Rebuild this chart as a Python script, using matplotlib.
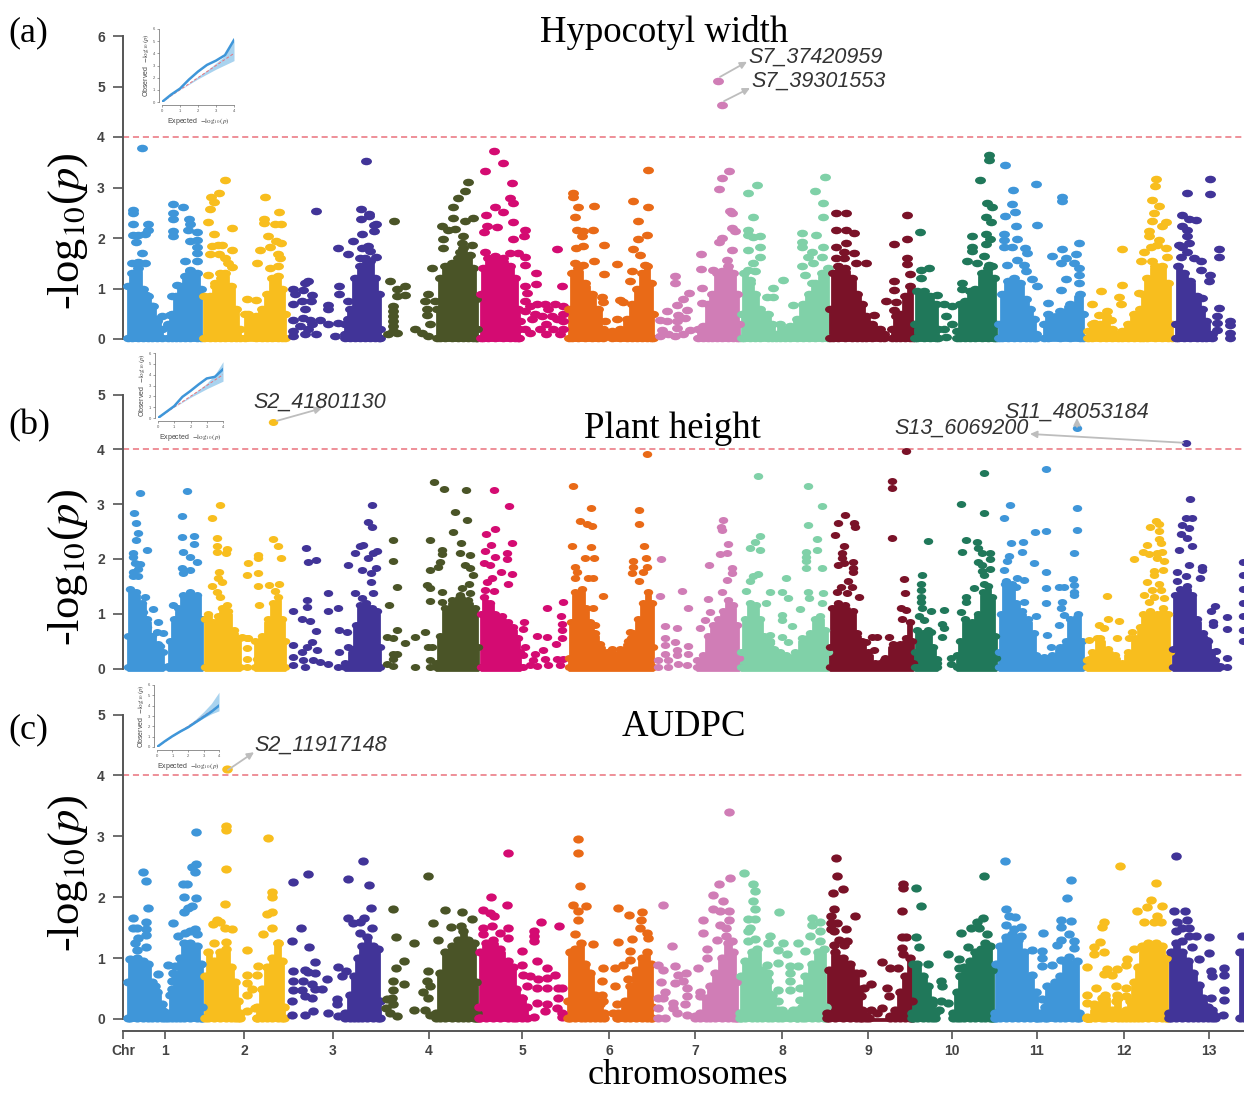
#!/usr/bin/env python3
"""Three stacked Manhattan plots (hypocotyl width, plant height, AUDPC) with QQ insets."""

import matplotlib
matplotlib.use("Agg")
import matplotlib.pyplot as plt
import numpy as np
from matplotlib.markers import MarkerStyle
from matplotlib.path import Path
from matplotlib.transforms import Affine2D

W, H = 1244, 1094

chr_labels = ["1", "2", "3", "4", "5", "6", "7", "8", "9", "10", "11", "12", "13"]
chr_ticks = [165, 244, 333, 429, 522, 609, 695, 782, 868, 952, 1037, 1124, 1209]
chr_colors = ["#3F96D9", "#F8BE1E", "#413498", "#4A5427", "#D40B72", "#E96A17", "#D07DB6",
              "#80D1A8", "#7A1228", "#20785A", "#3F96D9", "#F8BE1E", "#413498"]

# position along the genome axis, -log10(p)
# *_env: top of the solid part of a chromosome, *_pts: separately visible SNPs
a01_env = [(128,1.05),(132,1.3),(138,1.4),(143,1.0),(148,.85),(152,.65),(157,.4),(162,.2),(165,0),(167,0),(168,.3),(172,.5),(176,.85),(180,1.05),(185,1.25),(190,1.35),(197,1.3),(201,1.0)]
a01_pts = [(142,3.79),(133,2.55),(133,2.5),(133,2.28),(148,2.28),(133,2.06),(138,2.06),(145,2.07),(148,2.16),(136,1.92),(142,1.71),(132,1.5),(138,1.53),(145,1.5),(153,.65),(157,.35),(162,.46),(157,.18),(146,.88),(173,2.67),(183,2.62),(173,2.5),(173,2.37),(189,2.37),(190,2.28),(173,2.13),(173,2.03),(188,2.16),(197,2.11),(190,1.95),(197,1.96),(197,1.83),(197,1.7),(197,1.54),(185,1.54),(190,1.37),(172,.86),(177,1.07),(170,.48),(168,.25)]
a02_env = [(204,.85),(210,.85),(215,1.05),(220,1.3),(225,1.3),(231,1.05),(236,.6),(240,.2),(241,0),(243,0),(245,.5),(256,.45),(262,.6),(267,.9),(272,1.2),(278,1.25),(282,1.0),(285,.5)]
a02_pts = [(225,3.14),(219,2.9),(211,2.82),(214,2.72),(210,2.58),(208,2.32),(232,2.2),(214,2.07),(212,1.85),(218,1.86),(222,1.86),(232,1.76),(210,1.68),(219,1.68),(225,1.6),(228,1.5),(232,1.42),(208,1.27),(215,1.1),(221,1.2),(265,2.82),(264,2.37),(264,2.29),(279,2.51),(275,2.27),(281,2.28),(268,2.04),(276,1.95),(281,1.9),(260,1.76),(270,1.82),(278,1.68),(280,1.6),(257,1.5),(270,1.4),(278,1.45),(247,.8),(256,.78),(248,.5)]
a03_env = [(345,.3),(350,.6),(355,1.2),(360,1.45),(365,1.6),(370,1.55),(375,1.2),(379,.9),(380,.2)]
a03_pts = [(293,1.0),(295,.9),(305,1.1),(308,1.15),(303,.98),(312,.87),(302,.75),(293,.7),(311,.75),(305,.6),(328,.68),(328,.6),(293,.38),(303,.42),(310,.38),(320,.38),(328,.3),(293,.15),(300,.25),(308,.2),(316,.1),(293,.05),(305,.1),(312,.3),(316,2.53),(339,1.05),(339,.9),(338,.32),(345,.1),(355,.2),(348,.75),(335,.05),(348,.4),(366,3.53),(361,2.57),(369,2.47),(361,2.37),(369,2.43),(376,2.28),(374,2.25),(374,2.13),(362,2.07),(353,1.95),(338,1.8),(362,1.8),(368,1.85),(370,1.75),(348,1.68),(360,1.6),(376,1.62)]
a04_env = [(437,.6),(440,1.2),(445,1.45),(452,1.5),(458,1.6),(463,1.8),(468,1.65),(473,1.4),(476,.8),(477,.2)]
a04_pts = [(394,2.33),(390,1.15),(397,1.0),(405,1.05),(405,.88),(397,.85),(393,.65),(393,.55),(393,.45),(393,.35),(393,.25),(393,.15),(388,.1),(397,.12),(415,.2),(428,.9),(432,1.4),(425,.75),(435,.75),(427,.48),(428,.05),(422,.12),(430,.3),(427,.6),(468,3.1),(465,2.94),(458,2.8),(453,2.62),(453,2.39),(473,2.39),(465,2.33),(442,2.24),(448,2.16),(455,2.17),(463,2.04),(443,1.98),(443,1.8),(462,1.9),(472,1.87),(460,1.73),(470,1.67)]
a05_env = [(481,.9),(483,1.4),(488,1.6),(495,1.65),(503,1.6),(510,1.45),(515,1.2),(518,.6),(519,.2)]
a05_pts = [(494,3.72),(503,3.48),(485,3.33),(512,3.08),(510,2.79),(513,2.7),(495,2.61),(503,2.51),(486,2.46),(513,2.31),(487,2.23),(484,2.11),(497,2.21),(525,2.16),(524,2.04),(513,1.98),(557,1.78),(485,1.73),(510,1.7),(518,1.7),(525,1.63),(525,1.46),(536,1.3),(536,1.09),(562,1.04),(525,1.04),(527,.91),(525,.75),(530,.65),(537,.7),(545,.7),(548,.6),(555,.7),(563,.65),(563,.5),(557,.4),(563,.35),(525,.55),(535,.5),(542,.45),(532,.4),(546,.3),(553,.2),(560,.1),(563,.2),(525,.2),(530,.12),(540,.2),(546,.1),(520,.35),(552,.45)]
a06_env = [(569,.6),(572,1.3),(578,1.4),(585,1.1),(592,.9),(598,.6),(603,.2),(604,0),(610,0),(612,.15),(620,.2),(627,.4),(632,.7),(637,1.0),(642,1.3),(647,1.45),(651,1.1),(653,.5)]
a06_pts = [(648,3.35),(573,2.89),(573,2.81),(633,2.74),(578,2.61),(594,2.64),(648,2.61),(575,2.42),(638,2.33),(577,2.15),(583,2.13),(593,2.16),(582,2.03),(647,2.05),(638,1.98),(576,1.8),(583,1.85),(604,1.87),(633,1.78),(640,1.67),(594,1.55),(575,1.5),(583,1.47),(617,1.49),(645,1.47),(632,1.34),(604,1.29),(630,1.14),(602,.84),(620,.78),(617,.4),(603,.74),(605,.35),(623,.74),(607,.12)]
a07_env = [(698,.2),(703,.25),(708,.7),(712,.9),(717,1.3),(722,1.35),(728,1.45),(733,1.3),(737,.9),(739,.3)]
a07_pts = [(675,1.24),(675,1.11),(689,.91),(683,.79),(677,.68),(667,.55),(687,.58),(678,.48),(685,.41),(660,.38),(667,.35),(677,.35),(677,.22),(662,.18),(668,.09),(675,.05),(690,.18),(660,.05),(683,.09),(702,.71),(702,1.01),(701,1.38),(729,3.32),(722,3.18),(719,2.98),(730,2.54),(732,2.5),(719,1.93),(722,2.0),(732,2.2),(735,2.13),(732,1.77),(727,1.57),(701,1.68),(713,1.37)]
a08_env = [(742,.5),(744,1.3),(750,1.1),(755,.9),(760,.6),(768,.5),(772,.3),(776,.1),(780,.3),(785,.2),(790,.25),(797,.4),(803,.7),(809,.9),(815,1.1),(822,1.3),(828,1.4)]
a08_pts = [(748,2.9),(757,3.05),(753,2.41),(748,2.16),(748,2.06),(760,2.04),(753,2.02),(748,1.77),(760,1.83),(760,1.63),(753,1.5),(748,1.37),(755,1.34),(750,1.17),(773,1.01),(783,1.16),(767,.84),(793,.68),(773,.84),(825,3.2),(815,2.93),(823,2.69),(823,2.41),(802,2.1),(816,2.06),(802,1.93),(802,1.83),(823,1.83),(812,1.73),(808,1.63),(802,1.44),(822,1.63),(813,1.5),(805,1.27),(812,1.11)]
a09_env = [(830,.6),(833,1.3),(838,1.45),(845,1.4),(852,1.2),(857,.9),(862,.7),(866,.45),(872,.3),(880,.2),(884,.1),(886,0),(890,0),(892,.2),(896,.45),(900,.5),(905,.85),(910,1.05),(913,.3)]
a09_pts = [(836,2.5),(846,2.5),(836,2.16),(846,2.16),(854,2.1),(836,1.83),(846,1.9),(854,1.71),(844,1.73),(836,1.6),(844,1.6),(866,1.5),(856,1.5),(907,2.45),(907,1.99),(894,1.89),(907,1.61),(907,1.48),(910,1.29),(894,1.15),(894,.98),(886,.76),(896,.74),(894,.58),(874,.48),(874,.22)]
a10_env = [(915,.3),(917,.95),(924,.95),(930,.85),(936,.7),(938,.2),(939,0),(955,0),(957,.15),(960,.7),(965,.75),(970,.95),(975,1.0),(982,1.3),(988,1.4),(994,1.2),(996,.3)]
a10_pts = [(920,2.11),(921,1.37),(929,1.4),(921,1.2),(937,.88),(944,.7),(952,.65),(946,.45),(952,.3),(944,.2),(946,.03),(989,3.65),(989,3.55),(980,3.14),(987,2.69),(992,2.61),(986,2.41),(991,2.31),(972,2.03),(986,2.08),(990,1.98),(972,1.83),(972,1.75),(986,1.88),(984,1.65),(967,1.54),(977,1.5),(989,1.47),(992,1.45),(962,1.11),(962,1.0)]
a11_env = [(999,.3),(1002,.9),(1008,1.15),(1014,1.2),(1020,1.1),(1026,.8),(1030,.6),(1034,.4),(1036,.1),(1040,0),(1044,.3),(1048,.5),(1060,.55),(1070,.7),(1080,.9),(1083,.5)]
a11_pts = [(1005,3.45),(1036,3.06),(1013,2.95),(1062,2.82),(1062,2.74),(1012,2.68),(1015,2.52),(1005,2.44),(1016,2.24),(1037,2.25),(1004,2.08),(1004,1.96),(1017,1.98),(1004,1.83),(1012,1.83),(1025,1.8),(1027,1.7),(1062,1.79),(1079,1.9),(1052,1.65),(1066,1.61),(1076,1.69),(1017,1.57),(1007,1.47),(1024,1.47),(1061,1.5),(1074,1.5),(1079,1.4),(1026,1.34),(1066,1.19),(1079,1.27),(1032,1.19),(1037,1.04),(1061,.98),(1079,1.11),(1048,.71)]
a12_env = [(1088,.15),(1092,.3),(1100,.3),(1106,.45),(1112,.2),(1118,.1),(1122,.15),(1128,.3),(1134,.5),(1140,.6),(1143,.9),(1147,1.2),(1155,1.45),(1162,1.45),(1168,1.1),(1172,.3)]
a12_pts = [(1092,.7),(1101,.96),(1122,1.07),(1119,.84),(1121,.7),(1122,1.79),(1156,3.17),(1155,3.02),(1152,2.76),(1159,2.64),(1154,2.5),(1166,2.31),(1152,2.33),(1162,2.23),(1149,2.13),(1149,2.04),(1159,1.96),(1157,1.87),(1151,1.83),(1166,1.8),(1144,1.73),(1141,1.54),(1152,1.54),(1167,1.62),(1139,.91),(1107,.55),(1099,.48),(1094,.32),(1111,.38)]
a13_env = [(1176,.3),(1178,1.45),(1184,1.3),(1190,1.15),(1197,.85),(1202,.6),(1206,.35),(1212,.1),(1214,0)]
a13_pts = [(1210,3.16),(1187,2.9),(1210,2.87),(1182,2.45),(1189,2.37),(1196,2.36),(1182,2.23),(1187,2.15),(1187,2.04),(1189,1.91),(1179,1.87),(1182,1.82),(1187,1.73),(1219,1.79),(1219,1.62),(1181,1.63),(1194,1.6),(1201,1.54),(1201,1.36),(1210,1.27),(1209,1.15),(1219,.61),(1217,.45),(1217,.32),(1217,.18),(1211,.05),(1230,.35),(1230,.27),(1230,.12),(1230,.02),(1202,.81)]

b01_env = [(128,.6),(130,1.45),(136,1.4),(142,1.2),(147,.9),(152,.6),(158,.45),(163,.3),(165,0),(168,.05),(170,.5),(174,.9),(178,1.1),(183,1.35),(190,1.4),(197,1.35),(202,.9)]
b01_pts = [(140,3.21),(134,2.83),(136,2.65),(138,2.47),(136,2.34),(133,2.1),(133,2.03),(147,2.17),(135,1.92),(140,1.91),(138,1.82),(133,1.77),(133,1.68),(138,1.68),(145,1.31),(153,1.08),(143,1.04),(158,.85),(147,.76),(157,.67),(163,.64),(160,.41),(158,.06),(187,3.24),(182,2.79),(182,2.4),(194,2.41),(194,2.27),(183,2.13),(190,2.04),(197,1.95),(182,1.84),(190,1.79),(183,1.74),(173,1.16)]
b02_env = [(205,.9),(208,1.0),(213,.85),(218,.95),(222,1.1),(228,1.05),(234,.7),(240,.55),(241,0),(254,0),(255,.5),(262,.6),(268,.9),(273,1.2),(278,1.3),(282,.9),(285,.5)]
b02_pts = [(220,2.99),(212,2.74),(217,2.38),(217,2.23),(227,2.18),(217,2.12),(226,2.1),(219,1.77),(218,1.66),(222,1.57),(212,1.51),(217,1.4),(220,1.31),(227,1.16),(248,1.92),(247,1.71),(258,2.07),(258,2.01),(258,1.74),(258,1.51),(259,1.16),(273,2.37),(278,2.23),(281,2.01),(269,1.52),(279,1.55),(275,1.41),(247,.55),(247,.37),(247,.18),(247,.03),(257,.17),(242,.58),(248,.56)]
b03_env = [(345,.1),(352,.35),(356,.8),(360,1.15),(366,1.2),(372,1.1),(377,1.05),(380,.4)]
b03_pts = [(306,2.2),(308,1.94),(316,1.98),(307,1.25),(328,1.37),(307,1.13),(293,1.05),(328,1.05),(338,1.11),(302,.9),(310,.87),(316,.68),(293,.43),(312,.49),(307,.4),(302,.3),(317,.34),(293,.21),(293,.06),(303,.15),(305,.03),(313,.15),(320,.12),(328,.08),(339,.7),(339,.3),(348,.4),(347,.67),(338,.03),(372,2.98),(368,2.68),(372,2.59),(363,2.26),(360,2.23),(377,2.15),(373,2.1),(355,2.1),(368,2.01),(348,1.89),(362,1.79),(376,1.83),(371,1.74),(371,1.57),(355,1.37),(373,1.37),(362,1.28)]
b04_env = [(436,.1),(440,.6),(445,1.1),(452,1.25),(460,1.35),(468,1.25),(475,1.1),(478,.4)]
b04_pts = [(393,2.34),(393,1.96),(397,1.49),(389,1.16),(397,.71),(387,.58),(393,.56),(405,.46),(415,.57),(393,.27),(397,.27),(393,.18),(387,.09),(393,.05),(415,.03),(434,3.41),(444,3.28),(466,3.25),(455,2.85),(467,2.71),(453,2.49),(430,2.35),(461,2.29),(442,2.16),(442,2.09),(460,2.1),(470,2.07),(440,1.95),(438,1.85),(430,1.79),(465,1.89),(470,1.84),(473,1.7),(427,1.52),(430,1.46),(469,1.55),(442,1.4),(430,1.23),(462,1.46),(470,1.37),(425,.66),(428,.4),(432,.4),(430,.15),(430,.03),(442,1.22)]
b05_env = [(481,1.0),(484,1.3),(490,1.2),(495,1.0),(502,.95),(508,.85),(513,.75),(518,.55),(520,.3),(522,0)]
b05_pts = [(494,3.25),(509,2.96),(495,2.54),(486,2.46),(512,2.29),(491,2.26),(485,2.15),(495,2.04),(507,2.11),(507,1.99),(484,1.92),(490,1.89),(501,1.77),(512,1.72),(492,1.65),(487,1.57),(508,1.54),(485,1.43),(494,1.41),(524,.85),(523,.72),(547,1.1),(563,1.22),(561,.95),(562,.82),(562,.7),(562,.56),(556,.45),(537,.59),(547,.57),(525,.4),(523,.24),(535,.27),(543,.34),(545,.18),(533,.15),(523,.03),(537,.05),(557,.18),(563,.18),(560,.06),(548,.06),(530,.06)]
b06_env = [(569,.2),(571,.85),(575,1.4),(582,1.45),(586,1.1),(590,.85),(595,.65),(600,.45),(607,.3),(612,.35),(620,.35),(628,.5),(633,.65),(638,.9),(643,1.2),(648,1.4),(652,1.2),(653,.4)]
b06_pts = [(647,3.91),(573,3.33),(591,2.92),(639,2.9),(580,2.7),(587,2.63),(592,2.6),(639,2.64),(572,2.23),(591,2.21),(644,2.23),(585,2.01),(594,2.01),(646,2.01),(633,1.96),(575,1.86),(633,1.86),(647,1.86),(577,1.77),(632,1.75),(643,1.77),(575,1.65),(588,1.65),(593,1.66),(639,1.6),(603,1.32),(593,1.1),(595,.8),(630,.67),(631,.56)]
b07_env = [(697,.15),(703,.25),(708,.6),(713,.8),(718,.9),(723,1.05),(728,1.25),(733,1.15),(737,.8),(739,.2)]
b07_pts = [(661,2.0),(660,1.32),(682,1.42),(688,1.1),(665,.77),(677,.73),(665,.55),(675,.49),(665,.43),(677,.34),(688,.41),(665,.27),(677,.24),(688,.27),(658,.15),(668,.15),(678,.09),(687,.06),(658,.03),(668,.03),(723,2.71),(721,2.59),(722,2.53),(728,2.27),(727,2.1),(720,2.09),(709,1.88),(732,1.84),(732,1.74),(727,1.62),(722,1.4),(708,1.26),(705,.88),(700,.73),(710,1.04)]
b08_env = [(741,.3),(745,.9),(750,1.2),(756,1.15),(760,.9),(764,.6),(770,.5),(774,.35),(780,.3),(786,.25),(795,.3),(802,.55),(810,.65),(815,.9),(820,.95),(825,.7),(828,.3)]
b08_pts = [(758,3.52),(808,3.33),(822,2.96),(808,2.62),(760,2.41),(755,2.31),(817,2.37),(750,2.2),(760,2.17),(806,2.13),(817,2.16),(806,2.04),(806,1.96),(806,1.84),(822,1.83),(758,1.72),(753,1.68),(786,1.66),(750,1.59),(746,1.42),(770,1.4),(782,1.4),(808,1.39),(823,1.37),(809,1.28),(766,1.19),(788,1.28),(800,1.09),(782,.98),(782,.88),(822,1.19),(792,.77),(770,.61),(782,.58),(770,.46),(788,.49),(782,.18)]
b09_env = [(830,.4),(832,1.1),(838,1.2),(845,1.15),(853,1.05),(857,.65),(862,.5),(868,.3),(875,.1),(880,.1),(885,.2),(893,.45),(900,.45),(906,.55),(910,.85),(912,.5),(913,.1)]
b09_pts = [(906,3.96),(892,3.43),(892,3.29),(845,2.8),(838,2.65),(854,2.65),(855,2.58),(835,2.43),(892,2.39),(844,2.23),(842,2.1),(842,2.01),(844,1.92),(853,1.95),(838,1.89),(853,1.84),(853,1.76),(904,1.63),(848,1.6),(841,1.49),(852,1.49),(905,1.38),(837,1.4),(847,1.37),(859,1.31),(901,1.1),(906,1.07),(902,.9),(877,.57),(872,.57),(889,.57),(866,.49),(874,.34),(884,.15),(894,.4),(892,.09),(867,.03)]
b10_env = [(915,.3),(917,.7),(923,.65),(928,.7),(933,.4),(937,.1),(938,0),(956,0),(957,.25),(960,.5),(965,.9),(972,.85),(978,1.0),(983,1.4),(988,1.5),(992,1.3),(995,.6),(996,.2)]
b10_pts = [(928,2.32),(922,1.71),(921,1.55),(921,1.43),(921,1.31),(921,1.22),(922,1.1),(931,1.05),(944,1.07),(919,.95),(924,.88),(942,.82),(944,.73),(942,.58),(931,.67),(951,.2),(951,.08),(937,.18),(984,3.57),(961,3.01),(984,2.83),(966,2.35),(977,2.31),(978,2.2),(962,2.13),(982,2.1),(990,2.1),(978,1.95),(990,1.99),(982,1.88),(982,1.78),(990,1.82),(984,1.71),(966,1.31),(966,1.21),(974,1.46),(984,1.55),(961,1.03)]
b11_env = [(999,.3),(1001,1.0),(1005,1.55),(1012,1.55),(1016,1.2),(1022,1.05),(1028,.9),(1034,.65),(1036,.25),(1040,.15),(1045,.2),(1052,.25),(1060,.4),(1066,.5),(1070,.9),(1078,1.0),(1082,.5),(1083,.1)]
b11_pts = [(1046,3.64),(1010,2.99),(1004,2.74),(1077,2.92),(1077,2.53),(1035,2.49),(1046,2.51),(1011,2.29),(1023,2.31),(1074,2.11),(1009,2.06),(1022,2.13),(1007,1.96),(1034,1.92),(1004,1.79),(1046,1.77),(1017,1.65),(1024,1.61),(1006,1.59),(1016,1.49),(1073,1.63),(1074,1.52),(1046,1.46),(1059,1.48),(1064,1.48),(1074,1.4),(1024,1.21),(1046,1.19),(1062,1.22),(1061,1.1),(1064,.98),(1036,.95),(1047,.61),(1051,.4),(1044,.21),(1047,.15),(1059,.79),(1074,1.34)]
b12_env = [(1087,.15),(1092,.3),(1100,.55),(1108,.35),(1115,.25),(1122,.1),(1128,.3),(1135,.55),(1140,.75),(1143,1.0),(1150,1.05),(1157,1.0),(1163,1.1),(1168,1.0),(1170,.3)]
b12_pts = [(1156,2.7),(1159,2.64),(1150,2.59),(1159,2.51),(1159,2.37),(1161,2.29),(1147,2.25),(1143,2.13),(1149,2.09),(1157,2.11),(1162,2.13),(1134,2.0),(1157,2.01),(1164,1.96),(1154,1.78),(1163,1.79),(1154,1.7),(1147,1.57),(1159,1.55),(1152,1.43),(1161,1.43),(1144,1.34),(1154,1.31),(1164,1.28),(1149,1.22),(1107,1.32),(1108,.9),(1119,.87),(1099,.79),(1104,.73),(1117,.55),(1089,.52),(1097,.55),(1129,.56),(1132,.67),(1089,.18)]
b13_env = [(1173,.35),(1175,1.35),(1180,1.45),(1187,1.5),(1192,1.35),(1197,.9),(1203,.65),(1208,.5),(1212,.3),(1215,.15),(1220,.05)]
b13_pts = [(1190,3.09),(1186,2.74),(1192,2.74),(1182,2.61),(1189,2.57),(1181,2.46),(1187,2.38),(1192,2.24),(1179,2.16),(1189,1.89),(1202,1.86),(1202,1.8),(1177,1.76),(1186,1.68),(1200,1.65),(1177,1.6),(1215,1.14),(1211,1.05),(1227,.94),(1213,.85),(1213,.79),(1227,.72),(1207,.52),(1216,.32),(1227,.2),(1227,.03),(1211,.06),(1215,.03),(1207,.3),(1243,1.95),(1243,1.7),(1243,1.45),(1243,1.2),(1243,.95),(1243,.7),(1243,.5)]

c01_env = [(128,.6),(130,.98),(137,1.0),(143,.95),(148,.9),(152,.6),(157,.45),(162,.25),(165,.1),(167,0),(168,.1),(172,.5),(176,.7),(180,1.0),(184,1.25),(190,1.25),(197,1.2),(201,.9),(202,.2)]
c01_pts = [(143,2.42),(146,2.27),(148,1.82),(133,1.66),(146,1.6),(133,1.5),(137,1.5),(146,1.47),(146,1.38),(138,1.33),(135,1.25),(146,1.18),(137,1.14),(158,.74),(155,.55),(155,.43),(163,.13),(196,3.07),(196,2.55),(192,2.5),(195,2.41),(183,2.21),(187,2.21),(184,2.0),(196,1.99),(192,1.86),(188,1.82),(184,1.76),(173,1.58),(195,1.48),(190,1.44),(197,1.39),(178,1.37),(185,1.41),(168,.88),(175,.87),(173,.76),(172,.62),(170,.4)]
c02_env = [(205,.7),(208,1.1),(214,.95),(220,1.1),(226,1.15),(231,.85),(235,.6),(238,.3),(240,.1),(241,0),(255,0),(257,.2),(262,.5),(267,.85),(272,1.0),(278,1.25),(282,.95),(284,.2)]
c02_pts = [(226,3.17),(226,3.1),(268,2.98),(226,2.46),(225,1.89),(272,2.08),(272,2.0),(272,1.76),(267,1.72),(217,1.63),(213,1.56),(220,1.59),(225,1.5),(232,1.47),(272,1.5),(263,1.4),(226,1.26),(214,1.25),(247,1.14),(278,1.25),(247,.73),(257,.72),(247,.59),(258,.87),(247,.4),(247,.13),(255,.18),(252,.5),(257,.02),(238,.04)]
c03_env = [(345,.1),(350,.4),(354,.7),(358,1.0),(362,1.2),(367,1.35),(373,1.2),(378,1.15),(380,.3)]
c03_pts = [(293,2.25),(308,2.38),(348,2.3),(363,2.6),(369,2.2),(371,1.83),(301,1.5),(292,1.28),(309,1.18),(315,.94),(293,.78),(305,.81),(308,.77),(315,.76),(327,.66),(293,.62),(303,.62),(312,.58),(293,.48),(302,.48),(322,.49),(315,.49),(292,.29),(305,.37),(312,.34),(313,.13),(292,.07),(305,.07),(328,.1),(338,.85),(346,.79),(342,.7),(337,.33),(337,.24),(338,.05),(347,.03),(348,1.66),(353,1.57),(364,1.66),(360,1.6),(372,1.5),(360,1.41)]
c04_env = [(436,.1),(440,.75),(445,1.1),(452,1.2),(458,1.3),(463,1.45),(468,1.3),(474,1.25),(476,.6),(477,.1)]
c04_pts = [(393,1.81),(396,1.35),(414,1.25),(404,.96),(396,.83),(393,.62),(404,.58),(393,.48),(392,.34),(387,.33),(393,.25),(386,.18),(390,.1),(397,.05),(414,.14),(428,2.35),(433,1.58),(445,1.79),(462,1.76),(472,1.64),(451,1.51),(461,1.52),(438,1.3),(428,.78),(427,.62),(423,.45),(430,.54),(428,.35),(425,.15),(430,.07)]
c05_env = [(479,.2),(480,1.1),(486,1.25),(493,1.3),(500,1.15),(508,.95),(513,.85),(516,.5),(522,.35),(527,.2),(529,0)]
c05_pts = [(508,2.73),(491,2.0),(507,1.88),(483,1.79),(490,1.74),(494,1.69),(541,1.6),(559,1.53),(483,1.5),(492,1.53),(508,1.5),(483,1.39),(500,1.41),(534,1.44),(534,1.36),(534,1.28),(508,1.33),(522,1.12),(537,.96),(522,.89),(547,.84),(555,.73),(523,.73),(530,.7),(547,.67),(538,.65),(537,.51),(527,.54),(547,.51),(558,.51),(562,.51),(558,.35),(522,.35),(537,.26),(547,.24),(545,.13),(557,.18),(562,.1),(534,.04),(562,.03),(522,.15)]
c06_env = [(568,.3),(570,1.1),(575,1.15),(581,1.25),(585,.9),(590,.75),(595,.4),(600,.25),(604,.1),(606,0),(614,0),(618,.1),(625,.3),(630,.55),(636,.8),(642,1.0),(647,1.1),(651,.9),(652,.2)]
c06_pts = [(578,2.95),(578,2.72),(580,2.18),(573,1.87),(586,1.85),(578,1.77),(618,1.83),(629,1.7),(642,1.76),(578,1.62),(641,1.63),(640,1.5),(647,1.41),(575,1.39),(648,1.33),(632,1.31),(618,1.27),(593,1.23),(630,1.11),(603,.84),(630,.97),(623,.88),(615,.84),(602,.63),(615,.55),(602,.4),(603,.29),(617,.24),(613,.1),(617,.02),(628,.65)]
c07_env = [(695,.05),(700,.1),(706,.35),(710,.55),(715,.75),(722,1.0),(728,1.25),(733,1.1),(736,.6),(737,.1)]
c07_pts = [(663,1.87),(672,1.2),(658,.89),(663,.81),(675,.87),(686,.76),(678,.73),(661,.6),(675,.59),(683,.62),(665,.44),(687,.51),(658,.35),(663,.35),(673,.26),(687,.37),(685,.24),(658,.18),(673,.18),(687,.07),(658,.02),(665,.02),(677,.1),(700,.45),(700,.37),(700,.07),(729,3.4),(730,2.31),(719,2.21),(713,2.03),(723,1.93),(713,1.8),(720,1.77),(729,1.78),(703,1.62),(729,1.63),(720,1.55),(726,1.5),(703,1.42),(726,1.36),(717,1.29),(732,1.28),(707,1.15),(707,1.0),(698,.84)]
c08_env = [(740,.1),(741,.7),(745,.95),(752,1.1),(757,1.15),(762,.8),(768,.75),(772,.4),(778,.15),(782,.1),(790,.1),(797,.15),(802,.2),(805,.7),(812,.9),(818,1.1),(824,1.15),(826,.2)]
c08_pts = [(744,2.4),(753,2.21),(755,2.1),(753,1.93),(755,1.8),(748,1.65),(755,1.65),(750,1.5),(748,1.44),(755,1.31),(748,1.28),(779,1.76),(770,1.36),(768,1.25),(783,1.25),(798,1.25),(778,1.14),(787,1.06),(790,.87),(767,.89),(778,.92),(790,.76),(768,.62),(790,.62),(778,.48),(790,.48),(768,.43),(778,.29),(770,.26),(768,.1),(782,.15),(812,1.66),(820,1.6),(812,1.55),(820,1.44),(810,1.36),(820,1.28),(805,1.11),(798,.87),(800,.51),(800,.32),(793,.15),(797,.02)]
c09_env = [(827,.1),(829,.8),(835,1.1),(843,1.0),(850,.9),(856,.75),(860,.5),(862,.15),(866,.05),(890,.05),(895,.15),(900,.45),(905,.7),(910,1.0),(912,.3)]
c09_pts = [(836,2.65),(837,2.34),(843,2.14),(833,2.07),(903,2.22),(903,2.15),(902,1.77),(834,1.81),(855,1.69),(831,1.69),(831,1.58),(837,1.58),(831,1.47),(846,1.48),(834,1.44),(839,1.3),(847,1.28),(834,1.22),(844,1.22),(902,1.35),(906,1.35),(902,1.17),(903,1.06),(882,.94),(890,.84),(898,.84),(861,.76),(871,.58),(864,.51),(887,.51),(861,.37),(889,.37),(871,.14),(882,.18),(862,.1),(869,.02),(877,.1)]
c10_env = [(912,.1),(913,.9),(917,.9),(923,.7),(928,.55),(932,.25),(935,.1),(936,0),(950,0),(953,.1),(957,.45),(960,.7),(964,.85),(970,.95),(975,1.1),(981,1.15),(985,1.25),(990,1.2),(992,.8),(993,.1)]
c10_pts = [(916,2.15),(921,1.86),(916,1.35),(919,1.19),(928,.9),(948,1.07),(941,.63),(942,.54),(932,.32),(941,.29),(948,.27),(939,.14),(929,.03),(984,2.34),(983,1.66),(977,1.6),(971,1.5),(961,1.41),(979,1.5),(987,1.39),(968,1.19),(959,.99),(959,.84)]
c11_env = [(995,.1),(996,.9),(1000,1.2),(1006,1.35),(1012,1.4),(1018,1.3),(1024,1.1),(1030,.7),(1036,.45),(1037,.1),(1040,.1),(1045,.2),(1047,.55),(1055,.6),(1060,.7),(1065,.95),(1072,.9),(1077,.95),(1079,.1)]
c11_pts = [(1005,2.6),(1071,2.28),(1067,1.99),(1006,1.8),(1009,1.69),(1015,1.68),(1061,1.63),(1071,1.61),(1006,1.54),(1021,1.51),(1014,1.47),(1061,1.51),(1043,1.41),(1021,1.36),(1069,1.39),(1061,1.3),(1074,1.28),(1074,1.17),(1032,1.14),(1057,1.22),(1042,1.11),(1042,1.0),(1069,1.02),(1061,.97),(1052,.89),(1042,.87),(1042,.33),(1048,.24),(1032,.73)]
c12_env = [(1087,.02),(1095,.2),(1102,.35),(1105,.4),(1112,.15),(1118,.35),(1122,.1),(1126,.15),(1130,.3),(1134,.6),(1138,.85),(1142,1.2),(1148,1.25),(1156,1.25),(1162,1.2),(1166,1.0),(1167,.1)]
c12_pts = [(1120,2.51),(1156,2.23),(1151,1.96),(1147,1.84),(1162,1.85),(1137,1.77),(1104,1.59),(1102,1.51),(1157,1.69),(1144,1.59),(1154,1.59),(1161,1.6),(1100,1.27),(1094,1.18),(1104,1.1),(1094,1.07),(1134,1.15),(1127,.99),(1087,.85),(1126,.89),(1107,.82),(1117,.82),(1104,.74),(1112,.73),(1096,.51),(1116,.55),(1126,.51),(1087,.4),(1117,.4),(1126,.37),(1087,.26),(1094,.24),(1116,.29),(1116,.13),(1087,.03),(1096,.03),(1117,.04)]
c13_env = [(1169,.1),(1171,1.1),(1176,1.25),(1182,1.1),(1188,.95),(1193,.75),(1198,.55),(1203,.35),(1208,.2),(1212,.1),(1215,.05),(1216,0),(1239,0),(1240,1.1),(1244,1.1)]
c13_pts = [(1176,2.67),(1174,1.77),(1185,1.77),(1187,1.62),(1177,1.59),(1182,1.5),(1189,1.5),(1176,1.44),(1196,1.36),(1189,1.36),(1209,1.34),(1182,1.28),(1192,1.19),(1209,1.08),(1199,.99),(1211,.78),(1224,.83),(1224,.73),(1212,.7),(1199,.56),(1224,.48),(1211,.34),(1224,.32),(1204,.21),(1212,.15),(1223,.07),(1211,.04),(1242,1.36)]

a_envs = [a01_env, a02_env, a03_env, a04_env, a05_env, a06_env, a07_env, a08_env, a09_env, a10_env, a11_env, a12_env, a13_env]
a_pts = [a01_pts, a02_pts, a03_pts, a04_pts, a05_pts, a06_pts, a07_pts, a08_pts, a09_pts, a10_pts, a11_pts, a12_pts, a13_pts]
b_envs = [b01_env, b02_env, b03_env, b04_env, b05_env, b06_env, b07_env, b08_env, b09_env, b10_env, b11_env, b12_env, b13_env]
b_pts = [b01_pts, b02_pts, b03_pts, b04_pts, b05_pts, b06_pts, b07_pts, b08_pts, b09_pts, b10_pts, b11_pts, b12_pts, b13_pts]
c_envs = [c01_env, c02_env, c03_env, c04_env, c05_env, c06_env, c07_env, c08_env, c09_env, c10_env, c11_env, c12_env, c13_env]
c_pts = [c01_pts, c02_pts, c03_pts, c04_pts, c05_pts, c06_pts, c07_pts, c08_pts, c09_pts, c10_pts, c11_pts, c12_pts, c13_pts]

# significant SNPs: label, x, y, chromosome index, label x, label y, arrow tail, arrow tip
a_hits = [("S7_37420959", 718, 5.11, 6, 748, 5.58, (720, 5.19), (747, 5.49)),
          ("S7_39301553", 722, 4.63, 6, 751, 5.11, (724, 4.71), (750, 4.97))]
b_hits = [("S2_41801130", 273, 4.5, 1, 253, 4.86, (277, 4.52), (322, 4.75)),
          ("S11_48053184", 1077, 4.38, 10, 1004, 4.68, (1077, 4.41), (1077, 4.57)),
          ("S13_6069200", 1186, 4.12, 12, 894, 4.39, (1183, 4.12), (1030, 4.28))]
c_hits = [("S2_11917148", 227, 4.11, 1, 254, 4.5, (228, 4.09), (254, 4.38))]

# QQ insets
qq_expected = [0, .5, 1, 1.5, 2, 2.5, 3, 3.5, 4]
a_qq_obs = [0, .6, 1.1, 1.85, 2.5, 3.05, 3.4, 3.85, 5.1]
b_qq_obs = [0, .55, 1.1, 1.95, 2.5, 3.1, 3.65, 3.8, 4.5]
c_qq_obs = [0, .55, 1.05, 1.5, 1.9, 2.4, 2.9, 3.4, 4.0]
a_qq_low = [0, .5, 1, 1.45, 1.9, 2.3, 2.7, 3.05, 3.4]
a_qq_high = [0, .5, 1, 1.55, 2.1, 2.6, 3.2, 3.8, 5.2]
b_qq_low = [0, .5, 1, 1.45, 1.9, 2.3, 2.7, 3.05, 3.4]
b_qq_high = [0, .5, 1, 1.55, 2.1, 2.6, 3.2, 4.0, 5.2]
c_qq_low = [0, .5, 1, 1.45, 1.9, 2.35, 2.8, 3.2, 3.5]
c_qq_high = [0, .5, 1, 1.55, 2.1, 2.7, 3.4, 4.2, 5.3]
qq_yticks = [0, 1, 2, 3, 4, 5, 6]
qq_xticks = [0, 1, 2, 3, 4]

plt.rcParams["font.family"] = ["Liberation Sans", "DejaVu Sans"]
plt.rcParams["mathtext.fontset"] = "stix"
SERIF = "Liberation Serif"
fig = plt.figure(figsize=(W / 100, H / 100), dpi=100)


def ellipse_marker(aspect):
    return MarkerStyle(Path.unit_circle().transformed(Affine2D().scale(aspect, 1)))


def manhattan(y0_px, px_per_unit, y_top, y_ticks, envs, pts, hits, size, aspect, line_y=4):
    # axes span the full width, so x is shared with the chromosome positions
    pad = 20
    top_px = y0_px - y_top * px_per_unit - 6
    ax = fig.add_axes([0, 1 - (y0_px + pad) / H, 1, (y0_px + pad - top_px) / H])
    ax.patch.set_visible(False)
    ax.set_xlim(0, W)
    ax.set_ylim(-pad / px_per_unit, (y0_px - top_px) / px_per_unit)
    marker = ellipse_marker(aspect)
    for i, color in enumerate(chr_colors):
        xe, ye = np.array(envs[i], dtype=float).T
        ax.fill_between(xe, -0.02, ye - 0.05, where=ye > 0, step="mid", color=color, lw=2, joinstyle="round", zorder=2)
        ax.scatter(xe[ye > 0], ye[ye > 0], s=size, marker=marker, color=color, lw=0, zorder=3)
        ax.scatter(xe[ye > 0], ye[ye > 0] * 0 + 0.02, s=size, marker=marker, color=color, lw=0, zorder=3)
        xp, yp = np.array(pts[i], dtype=float).T
        ax.scatter(xp, yp, s=size, marker=marker, color=color, lw=0, zorder=3)
    ax.plot([123, W], [line_y, line_y], color="#E9727C", lw=1.1, dashes=(4, 2.5), zorder=1)
    for label, x, y, chrom, lx, ly, tail, tip in hits:
        ax.scatter([x], [y], s=size, marker=marker, color=chr_colors[chrom], lw=0, zorder=3)
        ax.annotate("", xy=tip, xytext=tail,
                    arrowprops=dict(arrowstyle="-|>", color="#BDBDBD", lw=1.3, shrinkA=0, shrinkB=0))
        ax.text(lx, ly, label, fontsize=15.5, style="italic", color="#333333", va="center", ha="left")
    for s in ["top", "right", "bottom"]:
        ax.spines[s].set_visible(False)
    ax.spines["left"].set_position(("data", 123))
    ax.spines["left"].set_bounds(0, y_top)
    ax.spines["left"].set_color("#555555")
    ax.spines["left"].set_linewidth(1.4)
    ax.set_yticks(y_ticks)
    ax.tick_params(axis="y", length=7, width=1.2, color="#555555", labelcolor="#444444", pad=6, labelsize=10)
    for t in ax.get_yticklabels():
        t.set_fontweight("bold")
    ax.set_xticks([])
    return ax


def qq_inset(left, right, y0, y6, obs, low, high):
    ax = fig.add_axes([left / W, 1 - y0 / H, (right - left) / W, (y0 - y6) / H])
    ax.patch.set_visible(False)
    ax.set_xlim(0, 4)
    ax.set_ylim(0, 6)
    ax.fill_between(qq_expected, low, high, color="#A9D3EF", lw=0)
    ax.plot([0, 4], [0, 4], color="#E9727C", lw=0.7, dashes=(3, 2))
    ax.plot(qq_expected, obs, color="#3F96D9", lw=1.8)
    for s in ["top", "right"]:
        ax.spines[s].set_visible(False)
    for s in ["left", "bottom"]:
        ax.spines[s].set_position(("outward", 2))
        ax.spines[s].set_color("#666666")
        ax.spines[s].set_linewidth(0.5)
    ax.set_xticks(qq_xticks)
    ax.set_yticks(qq_yticks)
    ax.tick_params(length=1.5, width=0.4, labelsize=3, pad=1.5, colors="#555555")
    ax.set_xlabel("Expected  $-\\log_{10}(p)$", fontsize=5, labelpad=2, color="#444444")
    ax.set_ylabel("Observed  $-\\log_{10}(p)$", fontsize=5, labelpad=1, color="#444444")


ax_a = manhattan(339, 50.5, 6, [0, 1, 2, 3, 4, 5, 6], a_envs, a_pts, a_hits, 62, 1.45)
ax_b = manhattan(668.5, 54.8, 5, [0, 1, 2, 3, 4, 5], b_envs, b_pts, b_hits, 46, 1.35)
ax_c = manhattan(1019, 60.9, 5, [0, 1, 2, 3, 4, 5], c_envs, c_pts, c_hits, 58, 1.3)

# chromosome axis sits under the last panel
ax_c.spines["bottom"].set_visible(True)
ax_c.spines["bottom"].set_position(("data", -12 / 60.9))
ax_c.spines["bottom"].set_bounds(123, W)
ax_c.spines["bottom"].set_color("#555555")
ax_c.spines["bottom"].set_linewidth(1.4)
ax_c.set_xticks([123] + chr_ticks)
ax_c.set_xticklabels(["Chr"] + chr_labels, fontsize=10, fontweight="bold", color="#444444")
ax_c.tick_params(axis="x", length=6, width=1.2, color="#555555", pad=3.5)

qq_inset(162, 234, 102, 29, a_qq_obs, a_qq_low, a_qq_high)
qq_inset(158, 223, 418, 353, b_qq_obs, b_qq_low, b_qq_high)
qq_inset(157, 219, 747, 685, c_qq_obs, c_qq_low, c_qq_high)

panel_labels = ["(a)", "(b)", "(c)"]
panel_label_y = [33, 426, 730]
titles = ["Hypocotyl width", "Plant height", "AUDPC"]
title_x = [664, 672, 684]
title_y = [32, 429, 727]
ylabel_y = [231, 567, 873]
for lab, ly, tit, tx, ty, yl in zip(panel_labels, panel_label_y, titles, title_x, title_y, ylabel_y):
    fig.text(8 / W, 1 - ly / H, lab, family=SERIF, fontsize=26, va="center", ha="left")
    fig.text(tx / W, 1 - ty / H, tit, family=SERIF, fontsize=26.5, va="center", ha="center")
    fig.text(68 / W, 1 - yl / H, "-log$_{10}$($p$)", family=SERIF, fontsize=32, rotation=90,
             va="center", ha="center")
fig.text(688 / W, 1 - 1076 / H, "chromosomes", family=SERIF, fontsize=26, va="center", ha="center")

plt.savefig("out.png", dpi=100)
